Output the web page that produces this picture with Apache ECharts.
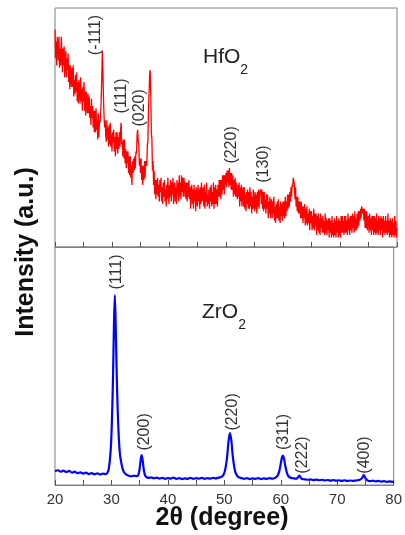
<!DOCTYPE html>
<html><head><meta charset="utf-8">
<script src="https://cdn.jsdelivr.net/npm/echarts@6/dist/echarts.min.js"></script>
<style>html,body{margin:0;padding:0;background:#fff}#c{width:405px;height:535px}</style>
</head><body><div id="c"></div>
<script>
const hfStart = 20, hfStep = 0.1;
const hfIntensity = [
 91,79,86,76,88,83,78,88,75,83,
 76,88,82,73,83,76,84,71,79,82,
 71,79,74,81,69,76,66,76,72,67,
 75,67,76,63,70,64,72,65,73,61,
 69,60,70,66,60,71,61,66,57,67,
 61,69,57,65,55,65,61,56,64,56,
 63,54,59,51,62,54,59,50,57,48,
 57,48,58,49,53,45,56,46,53,52,
 56,61,70,82,74,63,55,50,53,47,
 44,53,45,50,42,51,43,52,42,47,
 40,48,44,49,40,46,38,48,41,48,
 39,46,41,48,42,49,52,43,44,38,
 45,37,45,35,41,33,40,35,40,31,
 38,30,38,29,34,26,36,31,37,32,
 38,33,40,39,47,49,44,43,34,37,
 31,37,28,34,26,34,28,36,29,36,
 36,34,43,44,57,64,72,74,64,48,
 45,32,36,26,32,22,28,20,28,22,
 29,21,26,19,28,23,29,19,25,18,
 27,21,28,19,24,17,26,20,29,22,
 18,26,21,28,19,27,22,29,18,25,
 27,19,25,18,28,22,27,19,30,21,
 27,20,30,23,29,21,29,27,21,27,
 20,27,19,27,21,28,20,25,16,25,
 26,18,24,16,26,19,24,15,25,20,
 17,26,19,24,16,25,18,27,19,23,
 25,17,26,16,23,19,27,17,22,18,
 24,16,25,19,26,17,23,18,27,16,
 25,18,26,18,24,17,26,21,28,21,
 28,20,28,22,30,24,30,22,30,26,
 31,25,32,27,32,25,33,26,31,24,
 31,24,30,21,28,22,29,21,27,22,
 20,26,21,27,17,25,19,26,17,23,
 25,17,25,16,22,15,23,18,24,16,
 23,16,25,17,23,14,21,16,24,17,
 15,23,16,22,14,23,17,24,16,23,
 23,24,18,24,16,23,15,23,16,20,
 14,22,16,22,12,19,14,21,12,18,
 20,12,19,14,21,11,17,10,18,12,
 19,12,20,11,17,10,19,13,18,11,
 19,13,19,12,21,13,19,15,22,16,
 22,17,23,19,25,21,26,25,29,29,
 26,20,25,17,21,15,21,14,19,14,
 19,12,19,12,17,10,17,12,18,9,
 16,10,17,9,14,10,16,7,15,10,
 15,7,13,8,16,7,14,9,14,5,
 13,7,14,6,12,5,14,8,12,6,
 13,6,11,5,14,6,12,5,11,7,
 12,4,12,6,11,4,13,5,10,4,
 12,5,11,4,13,6,11,4,12,5,
 11,4,13,6,13,6,11,5,13,6,
 13,6,11,5,14,7,12,5,13,7,
 13,6,14,8,13,6,15,7,12,7,
 14,8,15,9,15,11,16,12,17,17,
 14,16,11,16,8,15,8,15,7,12,
 13,6,14,7,12,5,13,7,13,5,
 13,6,12,5,14,6,11,5,13,7,
 12,5,13,7,12,4,13,6,11,5,
 13,6,11,5,14,6,11,4,12,5,
 11,4,12,5,10,4,13,5,11,4,
 8
];
// ZrO2: angle / intensity pairs (a.u.)
const zrAngle = [
 20.0,20.5,21.0,21.5,22.0,22.5,23.0,23.5,24.0,24.5,25.0,25.5,26.0,26.5,27.0,27.5,28.0,28.5,29.0,29.3,
 29.5,29.7,29.9,30.1,30.3,30.45,30.6,30.75,30.9,31.1,31.3,31.5,31.7,31.9,32.2,32.6,33.0,33.5,34.0,34.5,
 34.8,35.0,35.2,35.35,35.5,35.7,35.9,36.2,36.6,37.0,37.5,38.0,38.5,39.0,39.5,40.0,40.5,41.0,41.5,42.0,
 42.5,43.0,43.5,44.0,44.5,45.0,45.5,46.0,46.5,47.0,47.5,48.0,48.5,49.0,49.5,49.9,50.2,50.5,50.75,51.0,
 51.25,51.5,51.8,52.1,52.5,53.0,53.5,54.0,54.5,55.0,55.5,56.0,56.5,57.0,57.5,58.0,58.5,59.0,59.4,59.7,
 60.0,60.2,60.35,60.55,60.8,61.1,61.4,61.8,62.3,62.8,63.1,63.3,63.5,63.8,64.3,64.8,65.3,65.8,66.3,66.8,
 67.3,67.8,68.3,68.8,69.3,69.8,70.3,70.8,71.3,71.8,72.3,72.8,73.3,73.7,74.0,74.4,74.7,75.0,75.4,75.8,
 76.3,76.8,77.3,77.8,78.3,78.8,79.3,79.8,80.0
];
const zrIntensity = [
 5.8,6.2,5.6,6.0,5.4,5.9,5.2,5.6,4.9,5.3,4.8,5.2,4.6,5.0,4.5,4.9,4.4,4.8,4.6,5.2,
 6.5,10,16,28,48,68,79.8,68,50,32,20,13,10,7.5,5.5,4.5,4.0,3.6,3.9,3.7,
 4.5,7,11,12.6,11,7,4.5,3.3,3.0,3.2,2.8,3.1,2.7,3.0,2.6,2.9,2.7,3.1,2.6,2.9,
 2.5,2.8,2.6,3.0,2.6,2.9,2.7,3.0,2.6,2.9,2.7,3.0,2.8,3.1,3.4,4.5,7,12,18.5,21.8,
 18.5,12,7,4.5,3.3,2.9,2.6,2.9,2.5,2.8,2.6,2.9,2.5,2.8,2.6,2.9,2.7,3.0,3.8,5.5,
 9,11.5,12.4,11.3,8,5,3.6,3.0,2.8,2.7,3.4,3.9,3.3,2.5,2.4,2.2,2.4,2.0,2.3,2.0,
 2.2,1.9,2.1,1.8,2.1,1.8,2.0,1.7,2.0,1.7,1.9,1.7,1.9,2.0,2.2,2.9,4.2,2.9,1.8,1.6,
 1.8,1.5,1.7,1.4,1.6,1.3,1.5,1.3,1.4
];
const xTicks = [20, 30, 40, 50, 60, 70, 80];
// Peak labels: [text, angle, intensity position of label centre]
const hfLabels = [["(-111)",27.19,88.7],["(111)",31.67,63.2],["(020)",34.91,58.2],["(220)",50.96,42.7],["(130)",56.58,34.7]];
const zrLabels = [["(111)",30.88,89.5],["(200)",35.88,22.3],["(220)",51.4,30.7],["(311)",60.44,22.3],["(222)",63.95,12.6],["(400)",74.82,12.6]];

const FONT = "'Liberation Sans', Arial, sans-serif";
const hfData = hfIntensity.map((v, i) => [hfStart + i * hfStep, v]);
const zrData = zrAngle.map((a, i) => [a, zrIntensity[i]]);

function xAxisCfg(idx, labels) {
  return {
    type: 'value', gridIndex: idx, min: xTicks[0], max: xTicks[xTicks.length - 1], interval: 10,
    axisLine: { show: true, lineStyle: { color: '#808080', width: 1 } },
    axisTick: { show: true, inside: true, length: 5, lineStyle: { color: '#555' } },
    minorTick: { show: true, splitNumber: 2, length: 5, lineStyle: { color: '#555' } },
    axisLabel: { show: labels, color: '#333', fontSize: 15, fontFamily: FONT, margin: 7 },
    splitLine: { show: false }
  };
}
function yAxisCfg(idx) {
  return { type: 'value', gridIndex: idx, min: 0, max: 100, show: true,
    axisLine: { show: false }, axisTick: { show: false }, axisLabel: { show: false }, splitLine: { show: false } };
}

const chart = echarts.init(document.getElementById('c'), null, { renderer: 'canvas' });
chart.setOption({
  animation: false,
  backgroundColor: '#fff',
  grid: [
    { left: 55, right: 8, top: 8, height: 239, show: true, borderColor: '#808080', borderWidth: 1, backgroundColor: 'transparent' },
    { left: 55, right: 8, top: 247, height: 238, show: true, borderColor: '#808080', borderWidth: 1, backgroundColor: 'transparent' }
  ],
  xAxis: [xAxisCfg(0, false), xAxisCfg(1, true)],
  yAxis: [yAxisCfg(0), yAxisCfg(1)],
  series: [
    { type: 'line', xAxisIndex: 0, yAxisIndex: 0, data: hfData, showSymbol: false, symbol: 'none',
      lineStyle: { color: '#ff0000', width: 1.3 }, clip: true },
    { type: 'line', xAxisIndex: 1, yAxisIndex: 1, data: zrData, showSymbol: false, symbol: 'none', smooth: 0.3,
      lineStyle: { color: '#0000ff', width: 2.2 }, clip: true }
  ]
});

const g = [];
function addPeakLabels(list, gi) {
  list.forEach(([t, a, v]) => {
    const p = chart.convertToPixel({ gridIndex: gi }, [a, v]);
    g.push({ type: 'text', x: p[0], y: p[1], rotation: Math.PI / 2,
      style: { text: t, fill: '#333', font: '16px ' + FONT, align: 'center', verticalAlign: 'middle' } });
  });
}
addPeakLabels(hfLabels, 0);
addPeakLabels(zrLabels, 1);
const formula = (t, x, y) => ({ type: 'text', x: x, y: y,
  style: { text: '{m|' + t + '}{s|2}', rich: {
    m: { fontSize: 21, fontFamily: FONT, fill: '#222', lineHeight: 30, verticalAlign: 'top' },
    s: { fontSize: 14, fontFamily: FONT, fill: '#222', lineHeight: 30, verticalAlign: 'bottom' } } } });
g.push(formula('HfO', 203, 47));
g.push(formula('ZrO', 202, 302));
g.push({ type: 'text', x: 26, y: 252, rotation: Math.PI / 2,
  style: { text: 'Intensity (a.u.)', font: 'bold 25px ' + FONT, fill: '#111', align: 'center', verticalAlign: 'middle' } });
g.push({ type: 'text', x: 222, y: 518, 
  style: { text: '2θ (degree)', font: 'bold 25px ' + FONT, fill: '#111', align: 'center', verticalAlign: 'middle' } });
chart.setOption({ graphic: g });
</script></body></html>
